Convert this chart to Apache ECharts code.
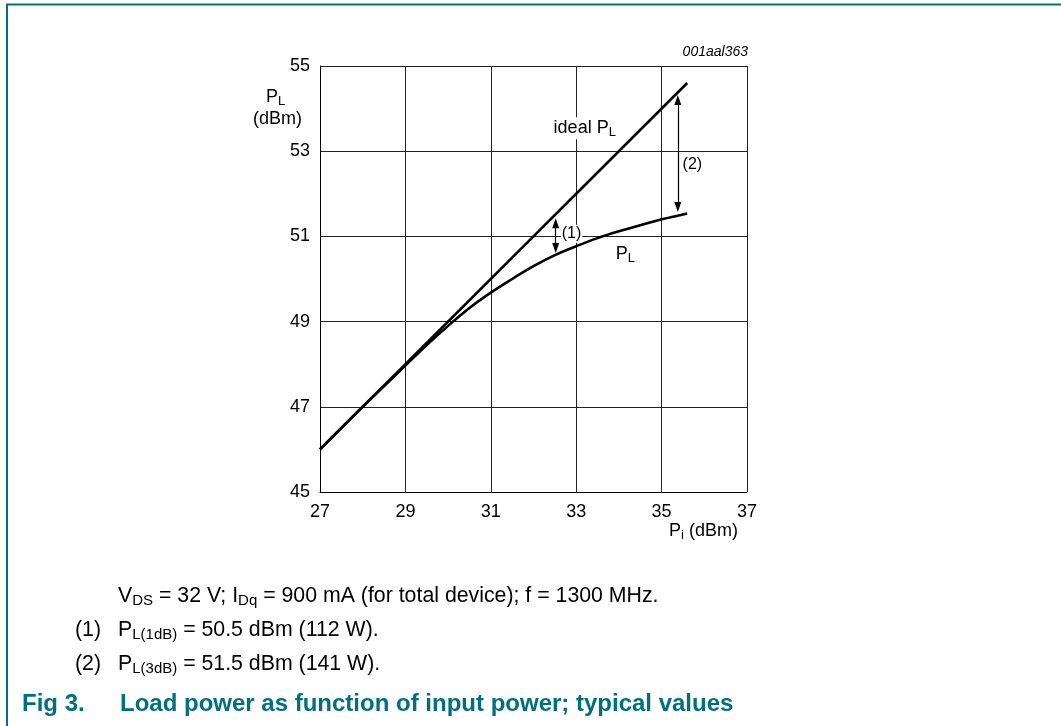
<!DOCTYPE html>
<html>
<head>
<meta charset="utf-8">
<script src="https://cdn.jsdelivr.net/npm/echarts@6/dist/echarts.min.js"></script>
<style>
html,body{margin:0;padding:0;background:#fff;}
#chart{width:1061px;height:726px;}
</style>
</head>
<body>
<div id="chart"></div>
<script>
// ---- data ----
const X_TICKS = [27, 29, 31, 33, 35, 37];
const Y_TICKS = [45, 47, 49, 51, 53, 55];
const IDEAL_X = [27, 35.6];
const IDEAL_Y = [46, 54.6];
const PL_X = [27, 28, 29, 29.5, 30, 30.5, 31, 31.5, 32, 32.5, 33, 33.5, 34, 34.5, 35, 35.6];
const PL_Y = [46, 47, 47.97, 48.45, 48.9, 49.32, 49.68, 50.0, 50.3, 50.56, 50.77, 50.96, 51.12, 51.26, 51.4, 51.54];
const ARROW_X = [32.52, 35.38];
const ARROW_TOP = [51.31, 54.2];
const ARROW_BOTTOM = [50.73, 51.69];
const ARROW_LABELS = ['(1)', '(2)'];
const ARROW_LABEL_X = [32.89, 35.72];
const ARROW_LABEL_Y = [51.06, 52.68];
const CURVE_LABELS = ['ideal P_L', 'P_L'];
const CURVE_LABEL_X = [33.2, 34.15];
const CURVE_LABEL_Y = [53.54, 50.59];

const FONT = '"Liberation Sans", Arial, sans-serif';
const TEAL = '#00707f';

function sub(s, base) {
  const i = s.indexOf('_');
  if (i < 0) return '{' + base + '|' + s + '}';
  return '{' + base + '|' + s.slice(0, i) + '}{s|' + s.slice(i + 1) + '}';
}
const labelRich = {
  n: {fontSize: 18, fontFamily: FONT, color: '#000', lineHeight: 22, verticalAlign: 'middle'},
  a: {fontSize: 16, fontFamily: FONT, color: '#000', lineHeight: 18, verticalAlign: 'middle'},
  s: {fontSize: 13, fontFamily: FONT, color: '#000', lineHeight: 13, verticalAlign: 'bottom'}
};
const bodyRich = {
  n: {fontSize: 21.3, fontFamily: FONT, color: '#000', lineHeight: 24, verticalAlign: 'middle'},
  s: {fontSize: 15, fontFamily: FONT, color: '#000', lineHeight: 15, verticalAlign: 'bottom'}
};

const chart = echarts.init(document.getElementById('chart'), null, {renderer: 'canvas'});

const labelData = [];
CURVE_LABELS.forEach((t, i) => labelData.push({value: [CURVE_LABEL_X[i], CURVE_LABEL_Y[i]], txt: sub(t, 'n')}));
ARROW_LABELS.forEach((t, i) => labelData.push({value: [ARROW_LABEL_X[i], ARROW_LABEL_Y[i]], txt: sub(t, 'a')}));

const arrowLines = ARROW_X.map((x, i) => [{coord: [x, ARROW_TOP[i]]}, {coord: [x, ARROW_BOTTOM[i]]}]);

chart.setOption({
  animation: false,
  backgroundColor: '#fff',
  grid: {left: 320, right: 314, top: 66, bottom: 234, containLabel: false},
  xAxis: {
    type: 'value', min: X_TICKS[0], max: X_TICKS[X_TICKS.length - 1], interval: 2,
    axisLine: {show: true, onZero: false, lineStyle: {color: '#000', width: 1}},
    axisTick: {show: false},
    axisLabel: {color: '#000', fontSize: 18, fontFamily: FONT, margin: 11},
    splitLine: {show: true, lineStyle: {color: '#222', width: 1}}
  },
  yAxis: {
    type: 'value', min: Y_TICKS[0], max: Y_TICKS[Y_TICKS.length - 1], interval: 2,
    axisLine: {show: true, lineStyle: {color: '#000', width: 1}},
    axisTick: {show: false},
    axisLabel: {color: '#000', fontSize: 18, fontFamily: FONT, margin: 10},
    splitLine: {show: true, lineStyle: {color: '#222', width: 1}}
  },
  series: [
    {
      type: 'line', name: 'ideal', data: IDEAL_X.map((x, i) => [x, IDEAL_Y[i]]),
      showSymbol: false, lineStyle: {color: '#000', width: 2.6}, z: 5,
      markLine: {
        silent: true, symbol: ['triangle', 'triangle'], symbolSize: [7, 10],
        label: {show: false},
        lineStyle: {color: '#000', width: 1.2, type: 'solid'},
        itemStyle: {color: '#000'},
        data: arrowLines
      }
    },
    {
      type: 'line', name: 'PL', data: PL_X.map((x, i) => [x, PL_Y[i]]),
      smooth: 0.4, showSymbol: false, lineStyle: {color: '#000', width: 2.6}, z: 5
    },
    {
      type: 'scatter', data: labelData, symbolSize: 0, z: 10,
      itemStyle: {opacity: 1, color: '#000'},
      label: {
        show: true, position: 'inside', color: '#000', backgroundColor: '#fff', padding: [0, 1],
        formatter: p => p.data.txt, rich: labelRich
      }
    }
  ],
  graphic: [
    {type: 'polyline', shape: {points: [[7, 726], [7, 4.5], [1061, 4.5]]}, style: {stroke: TEAL, lineWidth: 2, fill: null}},
    {type: 'text', right: 1061 - 748, top: 45, style: {text: '001aal363', font: 'italic 14px ' + FONT, fill: '#000'}},
    {type: 'text', left: 266, top: 88, style: {text: '{n|P}{s|L}', rich: labelRich}},
    {type: 'text', left: 253, top: 110, style: {text: '{n|(dBm)}', rich: labelRich}},
    {type: 'text', left: 669, top: 522, style: {text: '{n|P}{s|i}{n| (dBm)}', rich: labelRich}},
    {type: 'text', left: 118, top: 586, style: {text: '{n|V}{s|DS}{n| = 32 V; I}{s|Dq}{n| = 900 mA (for total device); f = 1300 MHz.}', rich: bodyRich}},
    {type: 'text', left: 75, top: 620, style: {text: '{n|(1)}', rich: bodyRich}},
    {type: 'text', left: 118, top: 620, style: {text: '{n|P}{s|L(1dB)}{n| = 50.5 dBm (112 W).}', rich: bodyRich}},
    {type: 'text', left: 75, top: 654, style: {text: '{n|(2)}', rich: bodyRich}},
    {type: 'text', left: 118, top: 654, style: {text: '{n|P}{s|L(3dB)}{n| = 51.5 dBm (141 W).}', rich: bodyRich}},
    {type: 'text', left: 22, top: 692, style: {text: 'Fig 3.', font: 'bold 24px ' + FONT, fill: TEAL}},
    {type: 'text', left: 120, top: 692, style: {text: 'Load power as function of input power; typical values', font: 'bold 24px ' + FONT, fill: TEAL}}
  ]
});
</script>
</body>
</html>
